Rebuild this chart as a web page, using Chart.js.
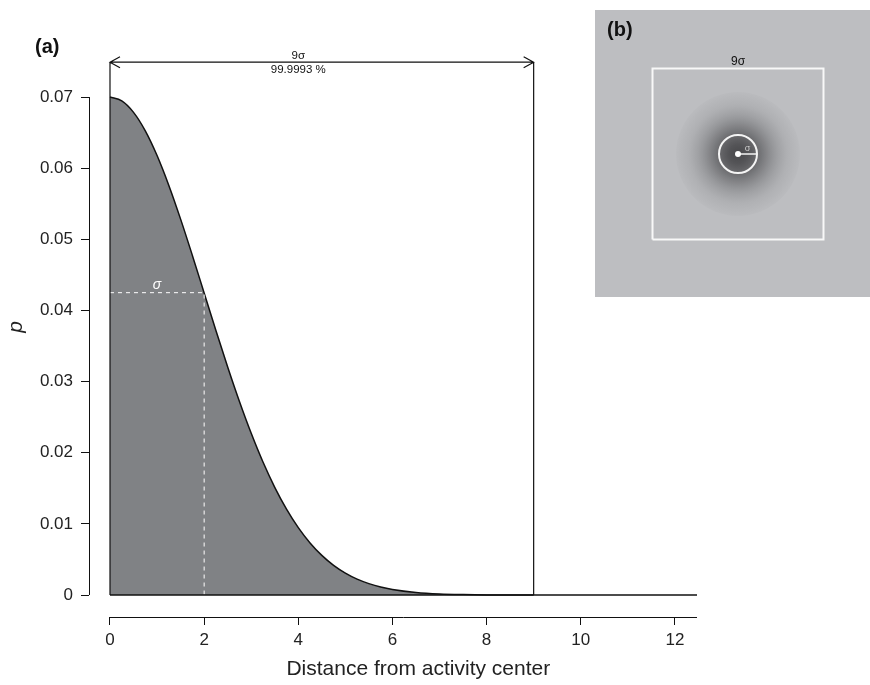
<!DOCTYPE html>
<html>
<head>
<meta charset="utf-8">
<script src="https://cdn.jsdelivr.net/npm/chart.js@4.4.1/dist/chart.umd.min.js"></script>
<style>
  body { margin: 0; background: #fff; }
  #wrap { position: relative; width: 870px; height: 685px; }
  #main { position: absolute; left: 0; top: 0; }
  #inset { position: absolute; left: 595px; top: 10px; }
</style>
</head>
<body>
<div id="wrap">
  <canvas id="main" width="870" height="685"></canvas>
  <canvas id="inset" width="275" height="287"></canvas>
</div>
<script>
// values
var distance = [0, 0.25, 0.5, 0.75, 1, 1.25, 1.5, 1.75, 2, 2.25, 2.5, 2.75, 3, 3.25, 3.5, 3.75,
                4, 4.25, 4.5, 4.75, 5, 5.25, 5.5, 5.75, 6, 6.5, 7, 7.5, 8, 8.5, 9];
var density = [0.0700, 0.06946, 0.06785, 0.06525, 0.06178, 0.05758, 0.05284, 0.04774, 0.04246,
               0.03718, 0.03205, 0.02720, 0.02273, 0.01869, 0.01514, 0.01207, 0.00947, 0.00732,
               0.00557, 0.00417, 0.00308, 0.00223, 0.00160, 0.00112, 0.00078, 0.00036, 0.00015,
               0.00006, 0.00002, 0.00001, 0.0];
var xTicks = [0, 2, 4, 6, 8, 10, 12];
var yTicks = [0, 0.01, 0.02, 0.03, 0.04, 0.05, 0.06, 0.07];
var sigma = 2;
var sigmaDensity = 0.0425;
var boxEnd = 9;          // end of the 9 sigma window on the distance axis
var boxSigmas = 9;       // side of the square in panel (b), in sigma
var boxLabel = '9\u03c3';
var boxPercent = '99.9993 %';
var xTitle = 'Distance from activity center';
var yTitle = 'p';

var FONT = '"Liberation Sans", Arial, Helvetica, sans-serif';

function tickList(list) {
  return function (scale) {
    scale.ticks = list.map(function (v) { return { value: v }; });
  };
}

// panel (a): annotations and R-style detached axes
var panelA = {
  id: 'panelA',
  afterDatasetsDraw: function (chart) {
    var ctx = chart.ctx, xs = chart.scales.x, ys = chart.scales.y, a = chart.chartArea;
    var y0 = ys.getPixelForValue(0);
    var arrowY = ys.getPixelForValue(0.0749);
    var xL = xs.getPixelForValue(0), xR = xs.getPixelForValue(boxEnd);
    ctx.save();
    ctx.strokeStyle = '#111';
    // baseline
    ctx.lineWidth = 1.5;
    ctx.beginPath();
    ctx.moveTo(xL, y0);
    ctx.lineTo(a.right, y0);
    ctx.stroke();
    // window verticals + arrow
    ctx.lineWidth = 1.2;
    ctx.beginPath();
    ctx.moveTo(xL, y0); ctx.lineTo(xL, arrowY);
    ctx.moveTo(xR, y0); ctx.lineTo(xR, arrowY);
    ctx.moveTo(xL, arrowY); ctx.lineTo(xR, arrowY);
    ctx.moveTo(xL + 10, arrowY - 5.5); ctx.lineTo(xL, arrowY); ctx.lineTo(xL + 10, arrowY + 5.5);
    ctx.moveTo(xR - 10, arrowY - 5.5); ctx.lineTo(xR, arrowY); ctx.lineTo(xR - 10, arrowY + 5.5);
    ctx.stroke();
    // axis lines
    ctx.lineWidth = 1;
    ctx.beginPath();
    ctx.moveTo(a.left + 0.5, ys.getPixelForValue(yTicks[0]));
    ctx.lineTo(a.left + 0.5, ys.getPixelForValue(yTicks[yTicks.length - 1]));
    ctx.moveTo(xL, a.bottom + 0.5);
    ctx.lineTo(a.right, a.bottom + 0.5);
    ctx.stroke();
    // labels over the arrow
    ctx.fillStyle = '#111';
    ctx.textAlign = 'center';
    ctx.textBaseline = 'middle';
    ctx.font = '11.5px ' + FONT;
    var lx = xs.getPixelForValue(4);
    ctx.fillText(boxLabel, lx, arrowY - 6.5);
    ctx.fillText(boxPercent, lx, arrowY + 8);
    // sigma label on dashed line
    ctx.fillStyle = '#fff';
    ctx.font = 'italic 14px ' + FONT;
    ctx.textBaseline = 'bottom';
    ctx.fillText('\u03c3', xs.getPixelForValue(sigma / 2), ys.getPixelForValue(sigmaDensity) - 1);
    // axis titles
    ctx.fillStyle = '#222';
    ctx.textBaseline = 'middle';
    ctx.font = '21px ' + FONT;
    ctx.fillText(xTitle, xs.getPixelForValue(6.55), 669);
    ctx.save();
    ctx.translate(16, ys.getPixelForValue(0.0377));
    ctx.rotate(-Math.PI / 2);
    ctx.font = 'italic 21px ' + FONT;
    ctx.fillText(yTitle, 0, 0);
    ctx.restore();
    // panel tag
    ctx.textAlign = 'left';
    ctx.font = 'bold 20px ' + FONT;
    ctx.fillStyle = '#111';
    ctx.fillText('(a)', 35, 47);
    ctx.restore();
  }
};

new Chart(document.getElementById('main'), {
  type: 'line',
  data: {
    datasets: [
      {
        data: [{ x: 0, y: sigmaDensity }, { x: sigma, y: sigmaDensity }, { x: sigma, y: 0 }],
        borderColor: '#fff',
        borderWidth: 1,
        borderDash: [4, 4],
        pointRadius: 0,
        fill: false
      },
      {
        data: distance.map(function (d, i) { return { x: d, y: density[i] }; }),
        borderColor: '#111',
        borderWidth: 1.5,
        backgroundColor: '#808285',
        fill: 'origin',
        pointRadius: 0,
        cubicInterpolationMode: 'monotone'
      }
    ]
  },
  options: {
    responsive: false,
    animation: false,
    layout: { padding: { top: 20, right: 173, left: 0, bottom: 0 } },
    plugins: { legend: { display: false }, tooltip: { enabled: false } },
    scales: {
      x: {
        type: 'linear',
        min: -0.446,
        max: 12.47,
        afterBuildTicks: tickList(xTicks),
        afterFit: function (s) { s.height = 68; },
        border: { display: false },
        grid: { drawOnChartArea: false, tickLength: 8, color: '#111' },
        ticks: { color: '#222', padding: 5, font: { family: FONT, size: 17 }, maxRotation: 0 }
      },
      y: {
        type: 'linear',
        min: -0.00309,
        max: 0.08083,
        afterBuildTicks: tickList(yTicks),
        afterFit: function (s) { s.width = 89; },
        border: { display: false },
        grid: { drawOnChartArea: false, tickLength: 8, color: '#111' },
        ticks: {
          color: '#222', padding: 8, font: { family: FONT, size: 17 },
          callback: function (v) { return String(v); }
        }
      }
    }
  },
  plugins: [panelA]
});

// panel (b): the home range seen from above
var BG = [189, 190, 193], DARK = [76, 76, 79];
function mix(w) {
  return 'rgb(' + BG.map(function (c, k) { return Math.round(c + (DARK[k] - c) * w); }).join(',') + ')';
}

var panelB = {
  id: 'panelB',
  beforeDatasetsDraw: function (chart) {
    var ctx = chart.ctx, xs = chart.scales.x, ys = chart.scales.y;
    var cx = xs.getPixelForValue(0), cy = ys.getPixelForValue(0);
    var unit = xs.getPixelForValue(1) - cx;
    ctx.save();
    ctx.fillStyle = mix(0);
    ctx.fillRect(0, 0, chart.width, chart.height);
    var rMax = 3.26;
    var g = ctx.createRadialGradient(cx, cy, 0, cx, cy, rMax * unit);
    for (var i = 0; i < distance.length; i++) {
      var r = distance[i] / sigma;
      if (r > 2.8) break;
      g.addColorStop(r / rMax, mix(Math.pow(density[i] / density[0], 0.62)));
    }
    g.addColorStop(1, mix(0.025));
    ctx.fillStyle = g;
    ctx.beginPath();
    ctx.arc(cx, cy, rMax * unit, 0, Math.PI * 2);
    ctx.fill();
    ctx.restore();
  },
  afterDatasetsDraw: function (chart) {
    var ctx = chart.ctx, xs = chart.scales.x, ys = chart.scales.y;
    var cx = xs.getPixelForValue(0), cy = ys.getPixelForValue(0);
    var unit = xs.getPixelForValue(1) - cx;
    ctx.save();
    ctx.strokeStyle = '#f4f4f4';
    ctx.lineWidth = 2;
    ctx.beginPath();
    ctx.arc(cx, cy, unit, 0, Math.PI * 2);
    ctx.stroke();
    ctx.fillStyle = '#fff';
    ctx.beginPath();
    ctx.arc(cx, cy, 3, 0, Math.PI * 2);
    ctx.fill();
    ctx.textAlign = 'center';
    ctx.textBaseline = 'middle';
    ctx.fillStyle = '#ccc';
    ctx.font = '9px ' + FONT;
    ctx.fillText('\u03c3', cx + 0.5 * unit, cy - 0.3 * unit);
    ctx.fillStyle = '#111';
    ctx.font = '12px ' + FONT;
    ctx.fillText(boxLabel, cx, ys.getPixelForValue(boxSigmas / 2) - 7);
    ctx.textAlign = 'left';
    ctx.font = 'bold 20px ' + FONT;
    ctx.fillText('(b)', 12, 20);
    ctx.restore();
  }
};

var half = boxSigmas / 2;
new Chart(document.getElementById('inset'), {
  type: 'line',
  data: {
    datasets: [
      {
        data: [{ x: -half, y: -half }, { x: half, y: -half }, { x: half, y: half }, { x: -half, y: half }, { x: -half, y: -half }],
        borderColor: '#f8f8f8', borderWidth: 2, pointRadius: 0, fill: false, tension: 0
      },
      {
        data: [{ x: 0, y: 0 }, { x: 1, y: 0 }],
        borderColor: '#f4f4f4', borderWidth: 1.5, pointRadius: 0, fill: false
      }
    ]
  },
  options: {
    responsive: false,
    animation: false,
    layout: { padding: 0 },
    plugins: { legend: { display: false }, tooltip: { enabled: false } },
    scales: {
      x: { type: 'linear', display: false, min: -7.526, max: 6.947 },
      y: { type: 'linear', display: false, min: -7.526, max: 7.579 }
    }
  },
  plugins: [panelB]
});
</script>
</body>
</html>
